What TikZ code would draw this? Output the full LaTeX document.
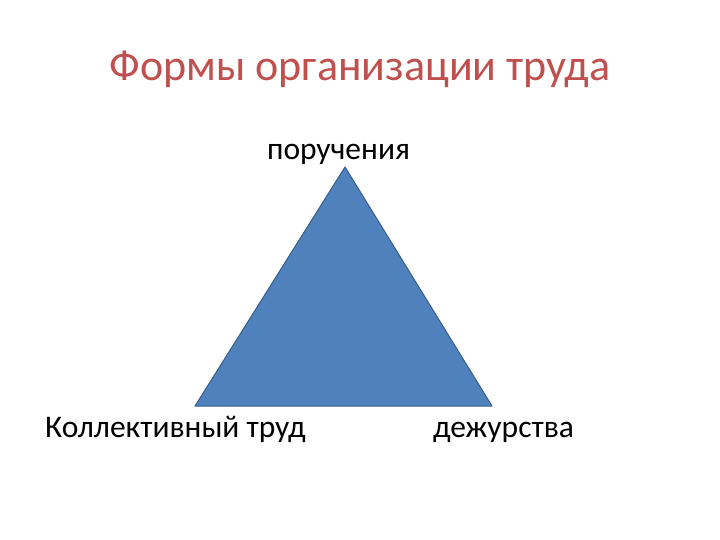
\documentclass[tikz,border=0pt]{standalone}
\usepackage{fontspec}
\setmainfont{Carlito}
\definecolor{titlered}{HTML}{C0504D}
\definecolor{trifill}{HTML}{4F81BD}
\definecolor{triedge}{HTML}{385D8A}
\begin{document}
\begin{tikzpicture}[x=1pt,y=-1pt,
  lbl/.style={inner sep=0pt, font=\fontsize{31.5}{36}\selectfont, text=black}]
\useasboundingbox (0,0) rectangle (720,540);
\node[inner sep=0pt, text=titlered, font=\fontsize{44}{52}\selectfont, anchor=base] (title) at (360,81) {Формы организации труда};
\coordinate (apex) at (345,167);
\coordinate (bl) at (195,406);
\coordinate (br) at (492,406);
\draw[fill=trifill, draw=triedge, line width=1pt, line join=round] (apex) -- (bl) -- (br) -- cycle;
\node[lbl, anchor=base] (top) at (338.5,160) {поручения};
\node[lbl, anchor=base west] (left) at (45,437) {Коллективный труд};
\node[lbl, anchor=base west] (right) at (433,437) {дежурства};
\end{tikzpicture}
\end{document}
